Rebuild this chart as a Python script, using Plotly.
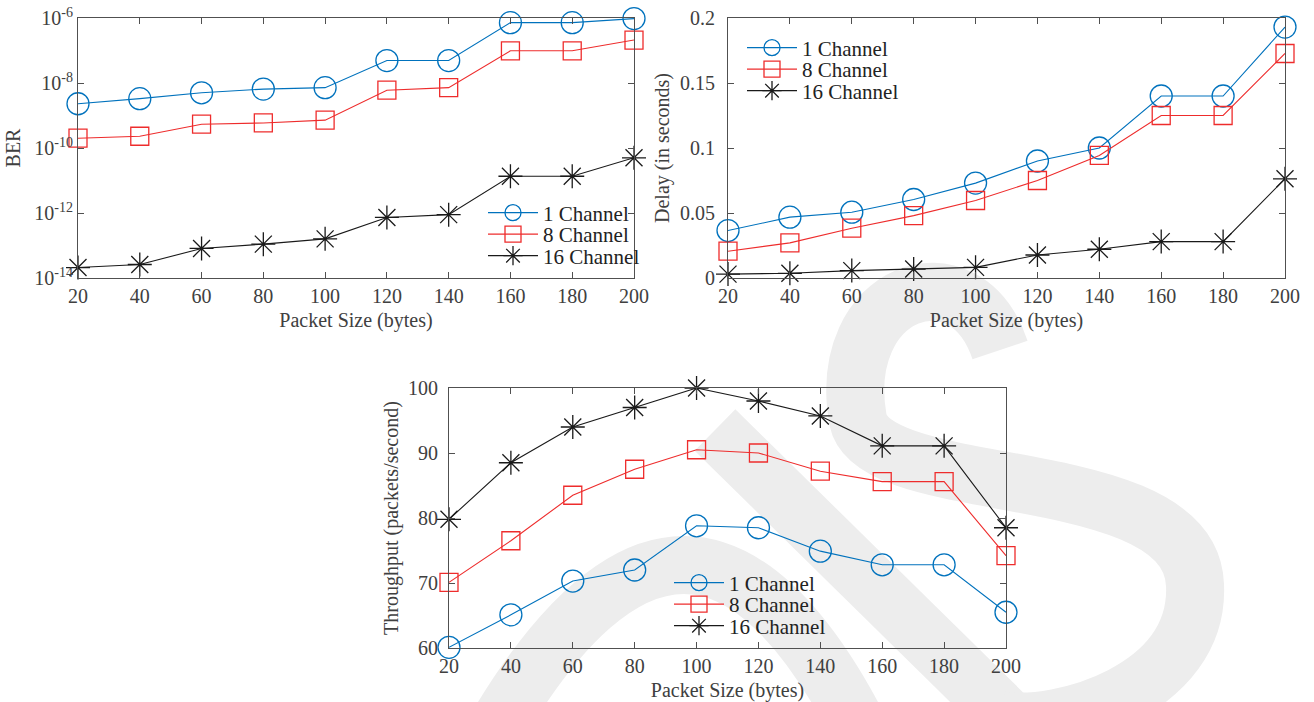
import plotly.graph_objects as go

# ---------------- data ----------------
packet_size = [20, 40, 60, 80, 100, 120, 140, 160, 180, 200]
series_names = ["1 Channel", "8 Channel", "16 Channel"]

ber_1ch = [2.3e-9, 3.3e-9, 5.0e-9, 6.5e-9, 7.2e-9, 4.9e-8, 4.9e-8, 7.2e-7, 7.2e-7, 9.6e-7]
ber_8ch = [2.0e-10, 2.3e-10, 5.4e-10, 5.9e-10, 7.2e-10, 6.0e-9, 7.2e-9, 9.8e-8, 9.8e-8, 2.1e-7]
ber_16ch = [2.1e-14, 2.6e-14, 8.1e-14, 1.1e-13, 1.6e-13, 7.3e-13, 8.9e-13, 1.35e-11, 1.35e-11, 5.0e-11]

delay_1ch = [0.0365, 0.0468, 0.0506, 0.0604, 0.073, 0.090, 0.100, 0.140, 0.140, 0.193]
delay_8ch = [0.0206, 0.027, 0.0383, 0.048, 0.0596, 0.075, 0.0943, 0.125, 0.125, 0.1727]
delay_16ch = [0.003, 0.0036, 0.0057, 0.0069, 0.0082, 0.0177, 0.0221, 0.028, 0.028, 0.0763]

thr_1ch = [60.1, 65.1, 70.3, 72.0, 78.8, 78.5, 74.9, 72.8, 72.8, 65.5]
thr_8ch = [70.1, 76.5, 83.5, 87.5, 90.5, 90.0, 87.2, 85.6, 85.6, 74.2]
thr_16ch = [79.8, 88.5, 94.0, 97.0, 100.0, 98.0, 95.7, 91.1, 91.1, 78.5]

x_ticks = [20, 40, 60, 80, 100, 120, 140, 160, 180, 200]
ber_tickvals = [1e-14, 1e-12, 1e-10, 1e-8, 1e-6]
ber_ticktext = ["10<sup>-14</sup>", "10<sup>-12</sup>", "10<sup>-10</sup>", "10<sup>-8</sup>", "10<sup>-6</sup>"]
delay_tickvals = [0, 0.05, 0.1, 0.15, 0.2]
delay_ticktext = ["0", "0.05", "0.1", "0.15", "0.2"]
thr_tickvals = [60, 70, 80, 90, 100]
thr_ticktext = ["60", "70", "80", "90", "100"]

# ---------------- style ----------------
W, H = 1314, 702
FONT = "Liberation Serif"
TXT = "#404040"
AX = "#505050"
COLORS = ["#0072BD", "#EE2C2C", "#1A1A1A"]
SYMBOLS = ["circle-open", "square-open", "asterisk-open"]
SIZES = [22, 18, 20]


def px(x, y):
    return x / W, 1 - y / H


fig = go.Figure()

panels = [
    ("x", "y", [ber_1ch, ber_8ch, ber_16ch]),
    ("x2", "y2", [delay_1ch, delay_8ch, delay_16ch]),
    ("x3", "y3", [thr_1ch, thr_8ch, thr_16ch]),
]
# legend anchor (pixel) for the first entry of each panel, row spacing
legend_pos = [(483, 213), (742, 48), (669, 583)]
ROW = 21.5

li = 0
for p, (xa, ya, ys) in enumerate(panels):
    for s in range(3):
        li += 1
        lname = "legend" if li == 1 else f"legend{li}"
        fig.add_trace(go.Scatter(
            x=packet_size, y=ys[s], name=series_names[s], mode="lines+markers",
            xaxis=xa, yaxis=ya, legend=lname, cliponaxis=False,
            line=dict(color=COLORS[s], width=1.1),
            marker=dict(symbol=SYMBOLS[s], size=SIZES[s], color=COLORS[s],
                        line=dict(width=1.3, color=COLORS[s])),
        ))
        lx, ly = legend_pos[p]
        fx, fy = px(lx, ly + s * ROW)
        fig.layout[lname] = dict(
            x=fx, y=fy, xanchor="left", yanchor="middle",
            bgcolor="rgba(0,0,0,0)", borderwidth=0, itemwidth=50,
            font=dict(family=FONT, size=21, color="#222222"),
            tracegroupgap=0,
        )

axis_common = dict(
    showline=True, linecolor=AX, linewidth=1.2, mirror="ticks",
    ticks="inside", ticklen=6, tickcolor=AX, tickwidth=1,
    showgrid=False, zeroline=False, automargin=False,
    tickfont=dict(family=FONT, size=20, color=TXT),
    title_font=dict(family=FONT, size=20, color=TXT),
)

# domains from pixel boxes
def xdom(l, r):
    return [l / W, r / W]

def ydom(t, b):
    return [1 - b / H, 1 - t / H]

xlab = "Packet Size (bytes)"
fig.update_layout(
    template="none",
    width=W, height=H, margin=dict(l=0, r=0, t=0, b=0, pad=0, autoexpand=False),
    paper_bgcolor="white", plot_bgcolor="rgba(0,0,0,0)",
    font=dict(family=FONT, color=TXT),
    xaxis=dict(domain=xdom(78, 634), anchor="y", range=[20, 200], tickvals=x_ticks,
               title=dict(text=xlab, standoff=6), **axis_common),
    yaxis=dict(domain=ydom(18, 278), anchor="x", type="log", range=[-14, -6],
               tickvals=ber_tickvals, ticktext=ber_ticktext, ticklabelstandoff=0,
               title=dict(text="BER", standoff=8), **axis_common),
    xaxis2=dict(domain=xdom(728, 1285), anchor="y2", range=[20, 200], tickvals=x_ticks,
                title=dict(text=xlab, standoff=6), **axis_common),
    yaxis2=dict(domain=ydom(18, 278), anchor="x2", range=[0, 0.2],
                tickvals=delay_tickvals, ticktext=delay_ticktext, ticklabelstandoff=8,
                title=dict(text="Delay (in seconds)", standoff=4), **axis_common),
    xaxis3=dict(domain=xdom(449, 1006), anchor="y3", range=[20, 200], tickvals=x_ticks,
                title=dict(text=xlab, standoff=6), **axis_common),
    yaxis3=dict(domain=ydom(388, 648), anchor="x3", range=[60, 100],
                tickvals=thr_tickvals, ticktext=thr_ticktext, ticklabelstandoff=6,
                title=dict(text="Throughput (packets/second)", standoff=3), **axis_common),
    showlegend=True,
)

# faint publisher watermark (decorative)
WM = "#EDEDED"
def path_px(cmds):
    out = []
    for c in cmds:
        if isinstance(c, str):
            out.append(c)
        else:
            fx, fy = px(*c)
            out.append(f"{fx:.5f},{fy:.5f}")
    return " ".join(out)

wm_paths = [
    ["M", (495, 730), "Q", (690, 400), (860, 730)],
    ["M", (715, 430), "L", (1020, 730)],
    ["M", (1000, 350), "C", (965, 245), (835, 290), (858, 420),
     "C", (875, 500), (1190, 460), (1195, 585),
     "C", (1200, 690), (1060, 730), (1000, 720)],
]
for pth in wm_paths:
    fig.add_shape(type="path", path=path_px(pth), xref="paper", yref="paper",
                  line=dict(color=WM, width=58), layer="below")

fig.write_html("out.html", config={"displayModeBar": False},
               post_script="document.body.style.margin='0';document.body.style.overflow='hidden';")
